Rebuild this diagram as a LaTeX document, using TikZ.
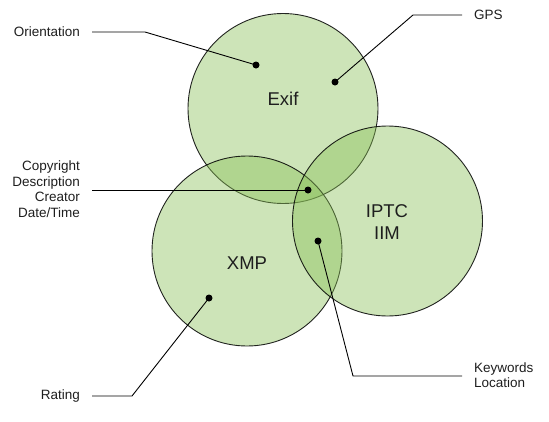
\documentclass[tikz,border=0pt]{standalone}
\usepackage{fontspec}
\setmainfont{Liberation Sans}
\definecolor{vgreen}{RGB}{136,191,86}
\definecolor{txt}{RGB}{30,30,30}
\begin{document}
\begin{tikzpicture}[x=1pt,y=-1pt,
  setc/.style={circle,minimum size=190pt,inner sep=0pt,fill=vgreen,fill opacity=0.42,draw=black,draw opacity=0.85,line width=0.9pt},
  biglbl/.style={font=\fontsize{18.5}{21.5}\selectfont,text=txt,align=center},
  lbl/.style={font=\fontsize{13.5}{15.6}\selectfont,text=txt},
  conn/.style={draw=black,line width=0.9pt},
  dotc/.style={circle,fill=black,inner sep=0pt,minimum size=7pt}]
\useasboundingbox (0,0) rectangle (549,421);
% circles
\node[setc] (exif) at (283,108.5) {};
\node[setc] (xmp) at (247,251) {};
\node[setc] (iptc) at (387.5,221) {};
% circle labels
\node[biglbl] (exiflbl) at (283,99) {Exif};
\node[biglbl] (xmplbl) at (247,263) {XMP};
\node[biglbl] (iptclbl) at (387,222) {IPTC\\IIM};
% dots
\node[dotc] (d1) at (256,65) {};
\node[dotc] (d2) at (335,82) {};
\node[dotc] (d3) at (308,190) {};
\node[dotc] (d4) at (318,241) {};
\node[dotc] (d5) at (209,298) {};
% text labels
\node[lbl,anchor=east,inner sep=0pt] (orient) at (80,32) {Orientation};
\node[lbl,anchor=west,inner sep=0pt] (gps) at (474,15) {GPS};
\node[lbl,anchor=east,inner sep=0pt,align=right] (copy) at (80,189) {Copyright\\Description\\Creator\\Date/Time};
\node[lbl,anchor=west,inner sep=0pt,align=left] (kw) at (474,375) {Keywords\\Location};
\node[lbl,anchor=east,inner sep=0pt] (rating) at (80,396) {Rating};
% connector bends
\coordinate (o1) at (92,32);
\coordinate (o2) at (145,32);
\coordinate (g1) at (462,15);
\coordinate (g2) at (413,15);
\coordinate (c1) at (92,190);
\coordinate (k1) at (462,376);
\coordinate (k2) at (353,376);
\coordinate (r1) at (92,396);
\coordinate (r2) at (132,396);
% connectors
\draw[conn] (o1) -- (o2) -- (d1.center);
\draw[conn] (g1) -- (g2) -- (d2.center);
\draw[conn] (c1) -- (d3.center);
\draw[conn] (k1) -- (k2) -- (d4.center);
\draw[conn] (r1) -- (r2) -- (d5.center);
\end{tikzpicture}
\end{document}
